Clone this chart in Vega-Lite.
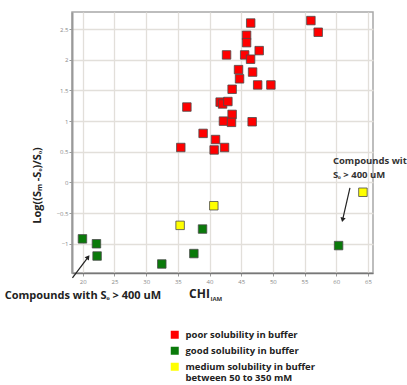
{
  "$schema": "https://vega.github.io/schema/vega-lite/v6.json",
  "width": 301,
  "height": 261,
  "autosize": {"type": "none"},
  "padding": {"left": 72, "top": 12, "right": 34, "bottom": 112},
  "background": "white",
  "config": {
    "view": {"stroke": "#a8a8a8", "strokeWidth": 1.5},
    "font": "Open Sans",
    "axis": {"labelFont": "Open Sans", "titleFont": "Open Sans", "labelOverlap": false}
  },
  "datasets": {
    "pts": [
      {"chi": 46.5, "logs": 2.60, "cls": "poor solubility in buffer"},
      {"chi": 56.0, "logs": 2.64, "cls": "poor solubility in buffer"},
      {"chi": 57.15, "logs": 2.45, "cls": "poor solubility in buffer"},
      {"chi": 45.85, "logs": 2.40, "cls": "poor solubility in buffer"},
      {"chi": 45.85, "logs": 2.28, "cls": "poor solubility in buffer"},
      {"chi": 47.84, "logs": 2.15, "cls": "poor solubility in buffer"},
      {"chi": 42.69, "logs": 2.08, "cls": "poor solubility in buffer"},
      {"chi": 45.55, "logs": 2.08, "cls": "poor solubility in buffer"},
      {"chi": 46.48, "logs": 2.01, "cls": "poor solubility in buffer"},
      {"chi": 44.58, "logs": 1.84, "cls": "poor solubility in buffer"},
      {"chi": 46.8, "logs": 1.80, "cls": "poor solubility in buffer"},
      {"chi": 44.74, "logs": 1.69, "cls": "poor solubility in buffer"},
      {"chi": 47.6, "logs": 1.59, "cls": "poor solubility in buffer"},
      {"chi": 49.69, "logs": 1.59, "cls": "poor solubility in buffer"},
      {"chi": 43.57, "logs": 1.52, "cls": "poor solubility in buffer"},
      {"chi": 41.68, "logs": 1.31, "cls": "poor solubility in buffer"},
      {"chi": 42.06, "logs": 1.28, "cls": "poor solubility in buffer"},
      {"chi": 42.9, "logs": 1.32, "cls": "poor solubility in buffer"},
      {"chi": 43.57, "logs": 1.11, "cls": "poor solubility in buffer"},
      {"chi": 42.2, "logs": 1.00, "cls": "poor solubility in buffer"},
      {"chi": 43.47, "logs": 0.98, "cls": "poor solubility in buffer"},
      {"chi": 46.73, "logs": 0.99, "cls": "poor solubility in buffer"},
      {"chi": 38.99, "logs": 0.80, "cls": "poor solubility in buffer"},
      {"chi": 40.95, "logs": 0.70, "cls": "poor solubility in buffer"},
      {"chi": 40.73, "logs": 0.53, "cls": "poor solubility in buffer"},
      {"chi": 42.37, "logs": 0.57, "cls": "poor solubility in buffer"},
      {"chi": 36.43, "logs": 1.23, "cls": "poor solubility in buffer"},
      {"chi": 35.47, "logs": 0.57, "cls": "poor solubility in buffer"},
      {"chi": 19.95, "logs": -0.92, "cls": "good solubility in buffer"},
      {"chi": 22.16, "logs": -1.0, "cls": "good solubility in buffer"},
      {"chi": 22.26, "logs": -1.2, "cls": "good solubility in buffer"},
      {"chi": 32.47, "logs": -1.33, "cls": "good solubility in buffer"},
      {"chi": 37.53, "logs": -1.16, "cls": "good solubility in buffer"},
      {"chi": 38.9, "logs": -0.76, "cls": "good solubility in buffer"},
      {"chi": 60.37, "logs": -1.03, "cls": "good solubility in buffer"},
      {"chi": 35.36, "logs": -0.70, "cls": "medium solubility in buffer between 50 to 350 mM"},
      {"chi": 40.68, "logs": -0.38, "cls": "medium solubility in buffer between 50 to 350 mM"},
      {"chi": 64.21, "logs": -0.16, "cls": "medium solubility in buffer between 50 to 350 mM"}
    ],
    "notes": [
      {"id": "bottom", "chi": 7.68, "logs": -1.858, "label": "Compounds with Sₒ > 400 uM"},
      {"id": "right", "chi": 59.47, "logs": 0.43, "label": "Compounds with\nSₒ > 400 uM"},
      {"id": "sub", "chi": 41.08, "logs": -1.895, "label": "IAM"}
    ],
    "arrows": [
      {"id": "a", "chi": 18.37, "logs": -1.558, "chi2": 20.84, "logs2": -1.217},
      {"id": "b", "chi": 62.16, "logs": -0.088, "chi2": 61.0, "logs2": -0.609}
    ],
    "heads": [
      {"id": "a", "chi": 20.84, "logs": -1.217},
      {"id": "b", "chi": 61.0, "logs": -0.609}
    ]
  },
  "encoding": {
    "x": {
      "field": "chi", "type": "quantitative",
      "scale": {"domain": [18.3, 65.8], "nice": false, "zero": false},
      "axis": {
        "values": [20, 25, 30, 35, 40, 45, 50, 55, 60, 65],
        "labelOverlap": false,
        "title": "CHI",
        "titleFontSize": 12, "titleFontWeight": "bold", "titleColor": "#222",
        "titleX": 127, "titleY": 20, "titleAlign": "center", "titleBaseline": "middle",
        "labelFontSize": 6, "labelColor": "#8a8a8a", "labelPadding": 2,
        "tickSize": 3, "tickColor": "#999",
        "domainColor": "#777", "domainWidth": 1.5,
        "gridColor": "#e2dfda", "gridWidth": 1.3
      }
    },
    "y": {
      "field": "logs", "type": "quantitative",
      "scale": {"domain": [-1.477, 2.78], "nice": false, "zero": false},
      "axis": {
        "values": [-1, -0.5, 0, 0.5, 1, 1.5, 2, 2.5],
        "labelOverlap": false,
        "format": "~g",
        "title": "Log((Sₘ -Sₒ)/Sₒ)",
        "titleFontSize": 11, "titleFontWeight": "bold", "titleColor": "#222",
        "titleX": -35, "titleY": 173, "titleAlign": "center", "titleBaseline": "middle", "titleAngle": -90,
        "labelFontSize": 6, "labelColor": "#8a8a8a", "labelPadding": 1,
        "tickSize": 3, "tickColor": "#999",
        "domainColor": "#999", "domainWidth": 2,
        "gridColor": "#e2dfda", "gridWidth": 1.3
      }
    }
  },
  "layer": [
    {
      "data": {"name": "pts"},
      "mark": {"type": "point", "shape": "square", "filled": true, "size": 72, "stroke": "#4a4a4a", "strokeWidth": 0.8, "opacity": 1},
      "encoding": {
        "color": {
          "field": "cls", "type": "nominal",
          "scale": {
            "domain": ["poor solubility in buffer", "good solubility in buffer", "medium solubility in buffer between 50 to 350 mM"],
            "range": ["#ff0000", "#0a7a0a", "#ffff00"]
          },
          "legend": {
            "orient": "none", "legendX": 98, "legendY": 318,
            "title": null,
            "symbolType": "square", "symbolSize": 64, "symbolStrokeWidth": 0, "symbolOpacity": 1,
            "labelFontSize": 9.5, "labelFontWeight": "bold", "labelColor": "#222", "labelFont": "Open Sans",
            "labelLimit": 0, "labelOffset": 6, "rowPadding": 5,
            "labelExpr": "datum.label == 'medium solubility in buffer between 50 to 350 mM' ? ['medium solubility in buffer', 'between 50 to 350 mM'] : datum.label"
          }
        }
      }
    },
    {
      "data": {"name": "notes"},
      "transform": [{"filter": "datum.id == 'bottom'"}],
      "mark": {"type": "text", "align": "left", "baseline": "middle", "fontSize": 11, "fontWeight": "bold", "color": "#222", "font": "Open Sans"},
      "encoding": {"text": {"field": "label"}}
    },
    {
      "data": {"name": "notes"},
      "transform": [{"filter": "datum.id == 'right'"}],
      "mark": {"type": "text", "align": "left", "baseline": "top", "fontSize": 9.5, "fontWeight": "bold", "color": "#333", "font": "Open Sans", "lineBreak": "\n", "lineHeight": 14},
      "encoding": {"text": {"field": "label"}}
    },
    {
      "data": {"name": "notes"},
      "transform": [{"filter": "datum.id == 'sub'"}],
      "mark": {"type": "text", "align": "center", "baseline": "middle", "fontSize": 6, "fontWeight": "bold", "color": "#333", "font": "Open Sans"},
      "encoding": {"text": {"field": "label"}}
    },
    {
      "data": {"name": "arrows"},
      "mark": {"type": "rule", "color": "#222", "strokeWidth": 1.2},
      "encoding": {
        "x2": {"field": "chi2"},
        "y2": {"field": "logs2"}
      }
    },
    {
      "data": {"name": "heads"},
      "transform": [{"filter": "datum.id == 'a'"}],
      "mark": {"type": "point", "shape": "triangle-up", "filled": true, "size": 28, "color": "#222", "opacity": 1, "angle": 36.6},
      "encoding": {}
    },
    {
      "data": {"name": "heads"},
      "transform": [{"filter": "datum.id == 'b'"}],
      "mark": {"type": "point", "shape": "triangle-up", "filled": true, "size": 28, "color": "#222", "opacity": 1, "angle": 192.8},
      "encoding": {}
    }
  ]
}
